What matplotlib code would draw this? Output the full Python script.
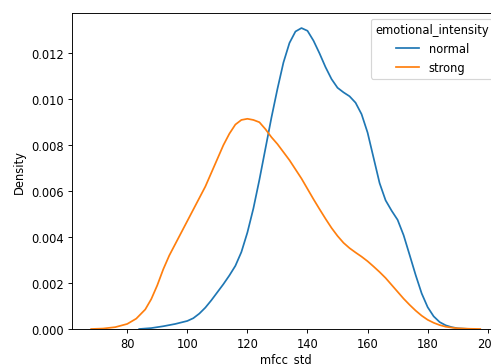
import matplotlib
matplotlib.use("Agg")
from matplotlib import pyplot as plt

# KDE curves of mfcc_std per emotional_intensity group
normal_x = [84, 88, 92, 96, 100, 102, 104, 106, 108, 110, 112, 114, 116, 118,
            120, 122, 124, 126, 128, 130, 132, 134, 136, 138, 140, 142, 144,
            146, 148, 150, 152, 154, 156, 158, 160, 162, 164, 166, 168, 170,
            172, 174, 176, 178, 180, 182, 184, 186, 188, 190, 194]
normal_y = [0.0, 0.00004, 0.00012, 0.00022, 0.00035, 0.00047, 0.00067, 0.00093,
            0.00125, 0.00160, 0.00195, 0.00233, 0.00275, 0.00335, 0.00420,
            0.00525, 0.00650, 0.00785, 0.00920, 0.01045, 0.01160, 0.01245,
            0.01295, 0.01310, 0.01298, 0.01255, 0.01200, 0.01140, 0.01088,
            0.01050, 0.01030, 0.01013, 0.00985, 0.00935, 0.00855, 0.00745,
            0.00635, 0.00560, 0.00515, 0.00475, 0.00408, 0.00322, 0.00235,
            0.00155, 0.00095, 0.00055, 0.00030, 0.00016, 0.00008, 0.00003, 0.0]

strong_x = [68, 72, 76, 80, 83, 86, 88, 90, 92, 94, 96, 98, 100, 102, 104, 106,
            108, 110, 112, 114, 116, 118, 120, 122, 124, 126, 128, 130, 132,
            134, 136, 138, 140, 142, 144, 146, 148, 150, 152, 154, 156, 158,
            160, 162, 164, 166, 168, 170, 172, 174, 176, 178, 180, 182, 184,
            186, 188, 190, 194, 197.5]
strong_y = [0.0, 0.00002, 0.00008, 0.00022, 0.00045, 0.00085, 0.0013, 0.0019,
            0.0026, 0.0032, 0.0037, 0.0042, 0.0047, 0.0052, 0.0057, 0.0062,
            0.0068, 0.0074, 0.0080, 0.0085, 0.0089, 0.0091, 0.00915, 0.0091,
            0.0090, 0.0087, 0.00835, 0.00805, 0.0077, 0.00735, 0.00695, 0.00655,
            0.0061, 0.00565, 0.00522, 0.0048, 0.0044, 0.00405, 0.00375, 0.00352,
            0.00333, 0.00315, 0.00295, 0.00272, 0.00248, 0.00222, 0.00192,
            0.00162, 0.00132, 0.00105, 0.0008, 0.00058, 0.0004, 0.00027,
            0.00017, 0.0001, 0.00006, 0.00003, 0.00001, 0.0]

dpi = 83
fig = plt.figure(figsize=(491 / dpi, 365 / dpi), dpi=dpi)
ax = fig.add_axes([71.7 / 491, 1 - 330 / 365, 428 / 491, 316 / 365])

ax.plot(normal_x, normal_y, color="#1f77b4", label="normal")
ax.plot(strong_x, strong_y, color="#ff7f0e", label="strong")
ax.set_ylim(bottom=0)
ax.set_xticks([80, 100, 120, 140, 160, 180, 200])

ax.set_xlabel("mfcc_std", labelpad=2)
ax.set_ylabel("Density")
ax.legend(title="emotional_intensity", loc="upper right")

fig.savefig("out.png", dpi=dpi)
